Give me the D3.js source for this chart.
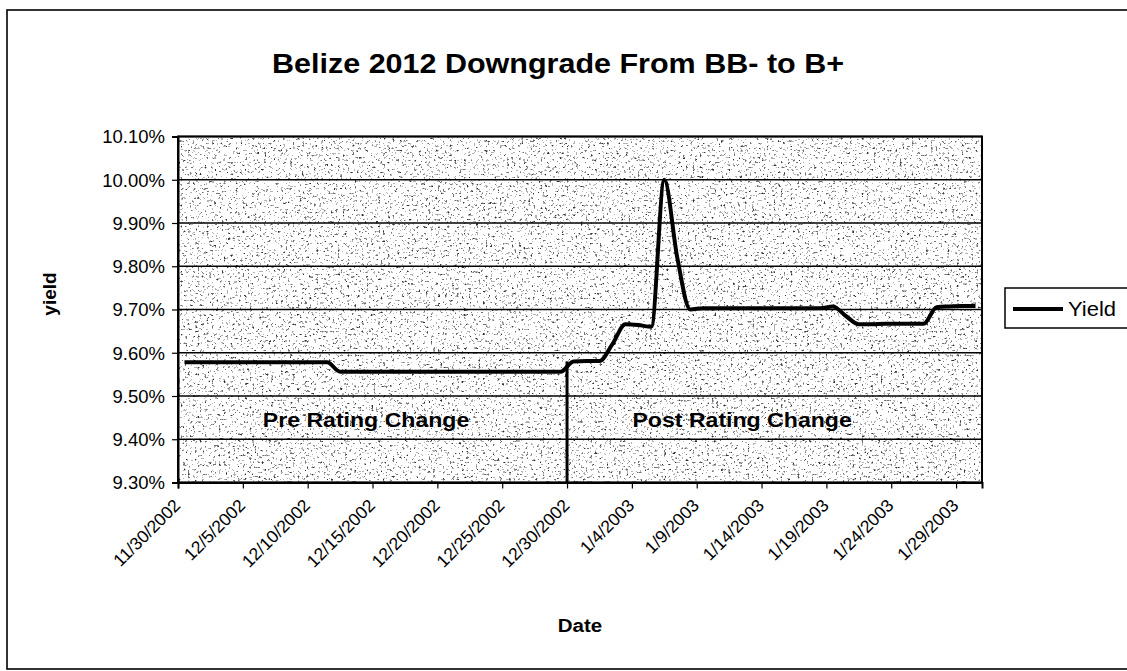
<!DOCTYPE html>
<html>
<head>
<meta charset="utf-8">
<script src="https://cdn.jsdelivr.net/npm/d3@7"></script>
<style>
  html, body { margin: 0; padding: 0; background: #fff; }
  svg { display: block; font-family: "Liberation Sans", Arial, sans-serif; }
</style>
</head>
<body>
<svg id="chart" width="1127" height="671"></svg>
<script>
// Daily observations, 11/30/2002 through 1/30/2003
const dates = [
  "11/30/2002","12/1/2002","12/2/2002","12/3/2002","12/4/2002","12/5/2002","12/6/2002","12/7/2002",
  "12/8/2002","12/9/2002","12/10/2002","12/11/2002","12/12/2002","12/13/2002","12/14/2002","12/15/2002",
  "12/16/2002","12/17/2002","12/18/2002","12/19/2002","12/20/2002","12/21/2002","12/22/2002","12/23/2002",
  "12/24/2002","12/25/2002","12/26/2002","12/27/2002","12/28/2002","12/29/2002","12/30/2002","12/31/2002",
  "1/1/2003","1/2/2003","1/3/2003","1/4/2003","1/5/2003","1/6/2003","1/7/2003","1/8/2003",
  "1/9/2003","1/10/2003","1/11/2003","1/12/2003","1/13/2003","1/14/2003","1/15/2003","1/16/2003",
  "1/17/2003","1/18/2003","1/19/2003","1/20/2003","1/21/2003","1/22/2003","1/23/2003","1/24/2003",
  "1/25/2003","1/26/2003","1/27/2003","1/28/2003","1/29/2003","1/30/2003"
];

// Yield in percent
const yieldValues = [
  9.578, 9.578, 9.578, 9.578, 9.578, 9.578, 9.578, 9.578,
  9.578, 9.578, 9.578, 9.578, 9.556, 9.556, 9.556, 9.556,
  9.556, 9.556, 9.556, 9.556, 9.556, 9.556, 9.556, 9.556,
  9.556, 9.556, 9.556, 9.556, 9.556, 9.556, 9.580, 9.581,
  9.581, 9.620, 9.666, 9.664, 9.660, 10.000, 9.820, 9.700,
  9.703, 9.703, 9.703, 9.703, 9.703, 9.703, 9.703, 9.703,
  9.703, 9.703, 9.707, 9.685, 9.666, 9.666, 9.667, 9.667,
  9.667, 9.667, 9.705, 9.707, 9.708, 9.708
];

const xTickLabels = ["11/30/2002","12/5/2002","12/10/2002","12/15/2002","12/20/2002","12/25/2002",
  "12/30/2002","1/4/2003","1/9/2003","1/14/2003","1/19/2003","1/24/2003","1/29/2003"];
const yTickValues = [9.30, 9.40, 9.50, 9.60, 9.70, 9.80, 9.90, 10.00, 10.10];

const axisStart = "11/30/2002";
const axisEnd = "1/31/2003";
const ratingChangeDate = "12/30/2002";

const seriesName = "Yield";
const titleText = "Belize 2012 Downgrade From BB- to B+";
const regionLabels = [
  { text: "Pre Rating Change", date: "12/14/2002", value: 9.428 },
  { text: "Post Rating Change", date: "1/12/2003", value: 9.428 }
];

const parse = d3.timeParse("%m/%d/%Y");
const halfDay = d => d3.timeHour.offset(d, 12);

const svg = d3.select("#chart");
const plot = { left: 178, right: 982, top: 136.5, bottom: 482.5 };

const x = d3.scaleTime()
  .domain([parse(axisStart), parse(axisEnd)])
  .range([plot.left, plot.right]);
const y = d3.scaleLinear()
  .domain([9.30, 10.10])
  .range([plot.bottom, plot.top]);

const data = dates.map((d, i) => ({ date: parse(d), value: yieldValues[i] }));

// Outer chart frame
svg.append("rect")
  .attr("x", 7).attr("y", 10).attr("width", 1130).attr("height", 659)
  .attr("fill", "none").attr("stroke", "#000").attr("stroke-width", 1.6);

// Stippled plot-area fill
const defs = svg.append("defs");
const grain = defs.append("filter").attr("id", "grain")
  .attr("x", 0).attr("y", 0).attr("width", 1).attr("height", 1);
grain.append("feTurbulence")
  .attr("type", "fractalNoise").attr("baseFrequency", 0.42)
  .attr("numOctaves", 2).attr("seed", 11).attr("result", "noise");
grain.append("feColorMatrix")
  .attr("in", "noise").attr("type", "matrix")
  .attr("values", "0 0 0 0 0  0 0 0 0 0  0 0 0 0 0  1.6 0 0 0 -0.35");
const ct = grain.append("feComponentTransfer");
ct.append("feFuncA").attr("type", "discrete").attr("tableValues", "0 0 0 0 0 0 0.3 0.55 0.8");

svg.append("rect")
  .attr("x", plot.left).attr("y", plot.top)
  .attr("width", plot.right - plot.left).attr("height", plot.bottom - plot.top)
  .attr("fill", "#fff");
svg.append("rect")
  .attr("x", plot.left).attr("y", plot.top)
  .attr("width", plot.right - plot.left).attr("height", plot.bottom - plot.top)
  .attr("fill", "#000").attr("filter", "url(#grain)");

// Horizontal gridlines
svg.append("g")
  .selectAll("line")
  .data(yTickValues)
  .join("line")
  .attr("x1", plot.left).attr("x2", plot.right)
  .attr("y1", d => y(d)).attr("y2", d => y(d))
  .attr("stroke", "#000").attr("stroke-width", 1.4);

// Plot border
svg.append("rect")
  .attr("x", plot.left).attr("y", plot.top)
  .attr("width", plot.right - plot.left).attr("height", plot.bottom - plot.top)
  .attr("fill", "none").attr("stroke", "#000").attr("stroke-width", 2);

// Y axis
const yAxis = svg.append("g")
  .attr("transform", `translate(${plot.left},0)`)
  .call(d3.axisLeft(y).tickValues(yTickValues).tickSize(6).tickPadding(7)
    .tickFormat(d => d.toFixed(2) + "%"));
yAxis.select(".domain").attr("stroke-width", 2);
yAxis.selectAll(".tick line").attr("stroke-width", 1.2);
yAxis.selectAll(".tick text")
  .attr("font-size", 18.5).attr("fill", "#000")
  .attr("font-family", "Liberation Sans, Arial, sans-serif")
  .attr("dy", "0.34em");

// X axis
const xTicks = xTickLabels.map(parse);
const xAxis = svg.append("g")
  .attr("transform", `translate(0,${plot.bottom})`)
  .call(d3.axisBottom(x).tickValues(xTicks).tickSize(6)
    .tickFormat((d, i) => xTickLabels[i]));
xAxis.select(".domain").attr("stroke-width", 2);
xAxis.selectAll(".tick line").attr("stroke-width", 1.2);
xAxis.selectAll(".tick text")
  .attr("font-size", 17.5).attr("fill", "#000")
  .attr("font-family", "Liberation Sans, Arial, sans-serif")
  .attr("text-anchor", "end")
  .attr("dy", 0)
  .attr("y", 0)
  .attr("transform", "translate(3,24) rotate(-45)");

// Rating change marker
const changeDate = parse(ratingChangeDate);
const changeValue = data.find(d => +d.date === +changeDate).value;
svg.append("line")
  .attr("x1", x(changeDate)).attr("x2", x(changeDate))
  .attr("y1", y(9.30)).attr("y2", y(changeValue))
  .attr("stroke", "#000").attr("stroke-width", 3);

// Yield series
const line = d3.line()
  .x(d => x(halfDay(d.date)))
  .y(d => y(d.value))
  .curve(d3.curveMonotoneX);
svg.append("path")
  .datum(data)
  .attr("d", line)
  .attr("fill", "none").attr("stroke", "#000")
  .attr("stroke-width", 4).attr("stroke-linejoin", "round");

// Region labels
svg.append("g")
  .selectAll("text")
  .data(regionLabels)
  .join("text")
  .attr("transform", d => `translate(${x(halfDay(parse(d.date)))},${y(d.value)}) scale(1.1,1)`)
  .attr("text-anchor", "middle")
  .attr("font-size", 21).attr("font-weight", "bold")
  .text(d => d.text);

// Title
svg.append("text")
  .attr("transform", "translate(558,73) scale(1.09,1)")
  .attr("text-anchor", "middle")
  .attr("font-size", 28).attr("font-weight", "bold")
  .text(titleText);

// Axis titles
svg.append("text")
  .attr("transform", "translate(56,294) rotate(-90)")
  .attr("text-anchor", "middle")
  .attr("font-size", 19).attr("font-weight", "bold")
  .text("yield");
svg.append("text")
  .attr("transform", `translate(${(plot.left + plot.right) / 2},632) scale(1.08,1)`)
  .attr("text-anchor", "middle")
  .attr("font-size", 19).attr("font-weight", "bold")
  .text("Date");

// Legend
const legend = svg.append("g").attr("transform", "translate(1005,288)");
legend.append("rect")
  .attr("width", 140).attr("height", 40)
  .attr("fill", "#fff").attr("stroke", "#000").attr("stroke-width", 1.5);
legend.append("line")
  .attr("x1", 8).attr("x2", 58).attr("y1", 21).attr("y2", 21)
  .attr("stroke", "#000").attr("stroke-width", 4);
legend.append("text")
  .attr("transform", "translate(63,28) scale(1.1,1)")
  .attr("font-size", 20)
  .text(seriesName);
</script>
</body>
</html>
